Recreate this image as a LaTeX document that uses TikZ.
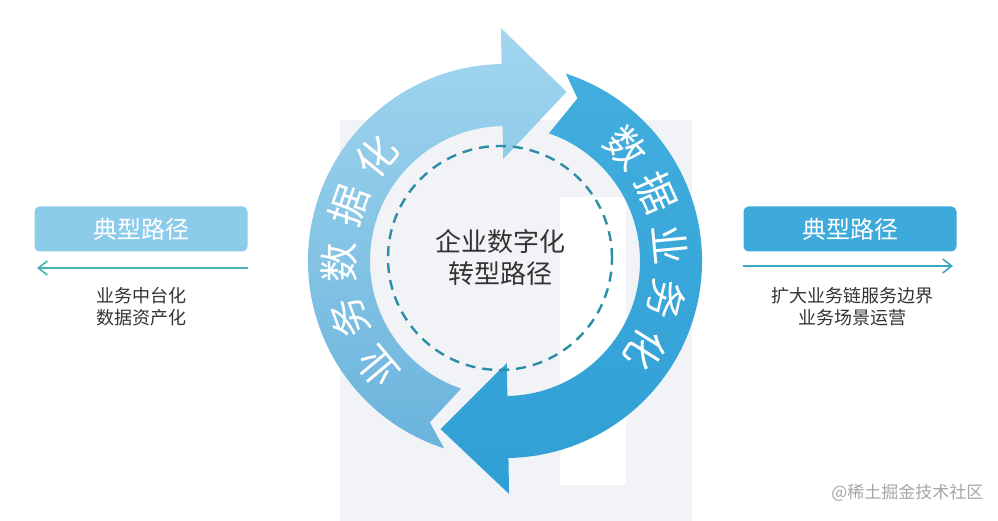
\documentclass[tikz,border=0pt]{standalone}
\usepackage{fontspec}
\setmainfont{Noto Sans CJK SC}
\usepackage{xcolor}
\usepackage{tikz}
\usetikzlibrary{arrows.meta}

\definecolor{lightblue}{HTML}{8CCBE9}
\definecolor{lighttop}{HTML}{A2D6EF}
\definecolor{lightbottom}{HTML}{6AB3DC}
\definecolor{deepblue}{HTML}{3DAADB}
\definecolor{deeptop}{HTML}{42AEDE}
\definecolor{deepbottom}{HTML}{309FD5}
\definecolor{tealline}{HTML}{48B5B0}
\definecolor{blueline}{HTML}{3AA7C6}
\definecolor{dashteal}{HTML}{2A8FA6}
\definecolor{markgrey}{HTML}{F2F3F6}
\definecolor{textgrey}{HTML}{333333}

\tikzset{
  pathbox/.style={rounded corners=5pt, minimum width=213pt, minimum height=45pt,
    inner sep=0pt, text=white, font=\fontsize{24}{28}\selectfont},
  pathline/.style={line width=1.6pt, -{Straight Barb[length=9pt,width=14pt]}},
  ringchar/.style={inner sep=0pt, text=white, font=\fontsize{40}{40}\selectfont},
  note/.style={align=center, text=textgrey, font=\fontsize{18}{22}\selectfont}
}

\begin{document}
\begin{tikzpicture}[x=1pt,y=1pt]
    \useasboundingbox (0,0) rectangle (998,521);
    \fill[white] (0,0) rectangle (998,521);

    \fill[markgrey] (340,0) rectangle (692,401);
    \fill[white] (560,36) rectangle (626,324);

    \coordinate (C) at (505,260);
    \coordinate (M) at (500,263);

    \begin{scope}[shift={(C)}]
        \path[top color=lighttop, bottom color=lightbottom]
            (252:197) arc[start angle=252, end angle=91, radius=197]
            -- (91:233) -- (70:180) -- (91:102) -- (91:135)
            arc[start angle=91, end angle=251, radius=135]
            -- (245:178) -- cycle;
        \path[top color=deeptop, bottom color=deepbottom]
            (72:197) arc[start angle=72, end angle=-89, radius=197]
            -- (-89:233) -- (-111:180) -- (-89:102) -- (-89:135)
            arc[start angle=-89, end angle=71, radius=135]
            -- (66:178) -- cycle;

        \foreach \ch [count=\i] in {业,务,数,据,化}
            \node[ringchar, rotate={220-19.8*(\i-1)-90}] (l\i) at ({220-19.8*(\i-1)}:166) {\ch};
        \foreach \ch [count=\i] in {数,据,业,务,化}
            \node[ringchar, rotate={43-18.8*(\i-1)-90}] (r\i) at ({43-18.8*(\i-1)}:166) {\ch};
    \end{scope}

    \draw[dashteal, line width=2.4pt, dash pattern=on 10pt off 7pt] (M) circle[radius=112];
    \node[align=center, text=textgrey, font=\fontsize{26}{32}\selectfont] (core) at (M) {企业数字化\\转型路径};

    \node[pathbox, fill=lightblue] (lbox) at (141,292) {典型路径};
    \node[pathbox, fill=deepblue] (rbox) at (850,292) {典型路径};

    \coordinate (lstart) at (248,253);
    \coordinate (lend) at (37,253);
    \coordinate (rstart) at (743,255);
    \coordinate (rend) at (953,255);
    \draw[pathline, tealline] (lstart) -- (lend);
    \draw[pathline, blueline] (rstart) -- (rend);

    \node[note] (lnote) at (141,214) {业务中台化\\数据资产化};
    \node[note] (rnote) at (852,214) {扩大业务链服务边界\\业务场景运营};

    \node[anchor=east, text=black!35, font=\fontsize{17}{17}\selectfont] (mark) at (987,28) {@稀土掘金技术社区};
\end{tikzpicture}
\end{document}
